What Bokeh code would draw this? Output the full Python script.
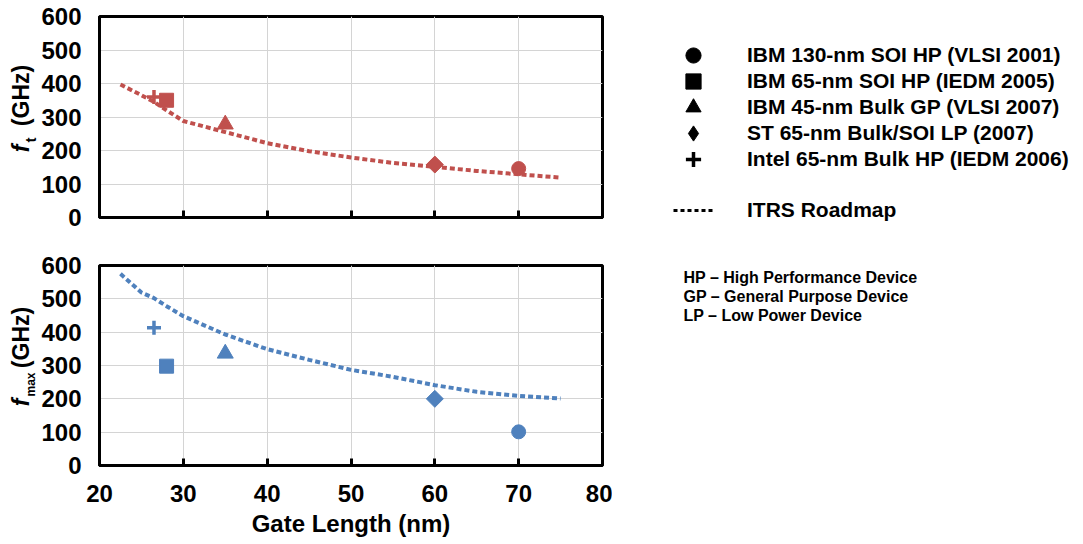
import math
from bokeh.plotting import figure
from bokeh.models import FixedTicker, Label, Legend, LegendItem, Range1d
from bokeh.layouts import column, row
from bokeh.embed import file_html
from bokeh.resources import INLINE

# ---------------- data ----------------
series_names = [
    "IBM 130-nm SOI HP (VLSI 2001)",
    "IBM 65-nm SOI HP (IEDM 2005)",
    "IBM 45-nm Bulk GP (VLSI 2007)",
    "ST 65-nm Bulk/SOI LP (2007)",
    "Intel 65-nm Bulk HP (IEDM 2006)",
]
series_markers = ["circle", "square", "triangle", "diamond", "cross"]
gate_length = [70, 28, 35, 60, 26.5]
ft_values = [146, 350, 278, 158, 360]
fmax_values = [101, 298, 336, 200, 413]

itrs_gate_length = [22.5, 25, 26.5, 28, 30, 35, 40, 45, 50, 55, 60, 65, 70, 75]
itrs_ft = [397, 365, 345, 320, 288, 255, 222, 198, 179, 163, 151, 139, 129, 119]
itrs_fmax = [575, 519, 502, 478, 448, 393, 349, 317, 287, 266, 241, 221, 209, 201]

x_ticks = [20, 30, 40, 50, 60, 70, 80]
y_ticks = [0, 100, 200, 300, 400, 500, 600]
notes = ["HP \u2013 High Performance Device",
         "GP \u2013 General Purpose Device",
         "LP \u2013 Low Power Device"]

RED = "#C0504D"
BLUE = "#4F81BD"
FONT = "Liberation Sans"
marker_sizes = {"circle": 14, "square": 14, "triangle": 16, "diamond": 12, "cross": 14}

LEFT_W = 38
MAIN_W = 574
RIGHT_W = 1080 - LEFT_W - MAIN_W
H1 = 237
H2 = 305
NAN = float("nan")


def make_fig(height, border_top, border_bottom):
    p = figure(width=MAIN_W, height=height, output_backend="svg", toolbar_location=None,
               x_range=Range1d(20, 80), y_range=Range1d(0, 600),
               min_border_left=61, min_border_right=10,
               min_border_top=border_top, min_border_bottom=border_bottom)
    p.outline_line_color = "black"
    p.outline_line_width = 3
    p.outline_line_alpha = 1
    for ax in p.axis:
        ax.axis_line_width = 3
        ax.axis_line_color = "black"
        ax.major_tick_line_width = 3
        ax.major_tick_line_color = "black"
        ax.minor_tick_line_color = None
        ax.major_label_text_font = FONT
        ax.major_label_text_font_style = "bold"
        ax.major_label_text_font_size = "24px"
        ax.major_label_text_color = "black"
    p.xaxis.ticker = FixedTicker(ticks=x_ticks)
    p.yaxis.ticker = FixedTicker(ticks=y_ticks)
    p.xaxis.major_tick_in = 7
    p.xaxis.major_tick_out = 0
    p.yaxis.major_tick_in = 0
    p.yaxis.major_tick_out = 0
    p.yaxis.major_label_standoff = 18
    p.xaxis.major_label_standoff = 19
    p.grid.grid_line_color = "#d4d4d4"
    p.grid.grid_line_width = 1
    return p


def blank_fig(width, height):
    p = figure(width=width, height=height, output_backend="svg", toolbar_location=None,
               x_range=Range1d(0, 1), y_range=Range1d(0, 1),
               x_axis_location=None, y_axis_location=None,
               min_border=0, min_border_left=0, min_border_right=0,
               min_border_top=0, min_border_bottom=0)
    p.outline_line_color = None
    p.grid.visible = False
    return p


def add_series(p, yvals, itrs_vals, color):
    p.line(itrs_gate_length, itrs_vals, line_color=color, line_width=4, line_dash="5 3")
    for m, x, y in zip(series_markers, gate_length, yvals):
        if m == "cross":
            p.scatter([x], [y], marker=m, size=marker_sizes[m], line_color=color, line_width=3.5)
        elif m == "diamond":
            # drawn as a square turned by 45 degrees, like the reference symbol
            p.scatter([x], [y], marker="square", angle=math.pi / 4, size=marker_sizes[m],
                      fill_color=color, line_color=color)
        else:
            p.scatter([x], [y], marker=m, size=marker_sizes[m], fill_color=color, line_color=color)


def ylabel(p, parts):
    # parts: text, centre along the (vertical) text in frame px, x of text middle, size, style
    for text, y, x, size, style in parts:
        p.add_layout(Label(x=x, y=y, x_units="screen", y_units="screen", text=text,
                           angle=math.pi / 2, text_align="center", text_baseline="middle",
                           text_font=FONT, text_font_size=size, text_font_style=style,
                           text_color="black"))


# ---------------- top: f_t ----------------
p1 = make_fig(H1, 16, 20)
p1.xaxis.major_label_overrides = {t: "" for t in x_ticks}
p1.xaxis.major_label_text_font_size = "1px"
p1.xaxis.major_label_standoff = 0
add_series(p1, ft_values, itrs_ft, RED)

# ---------------- bottom: f_max ----------------
p2 = make_fig(H2, 28, 77)
add_series(p2, fmax_values, itrs_fmax, BLUE)
p2.xaxis.axis_label = "Gate Length (nm)"
p2.xaxis.axis_label_text_font = FONT
p2.xaxis.axis_label_text_font_style = "bold"
p2.xaxis.axis_label_text_font_size = "24px"
p2.xaxis.axis_label_text_color = "black"
p2.xaxis.axis_label_standoff = 5

# ---------------- y titles ----------------
l1 = blank_fig(LEFT_W, H1)
ylabel(l1, [("f", H1 - 148, 20.5, "23px", "bold italic"),
            ("t", H1 - 139.5, 29.5, "15px", "bold"),
            ("(GHz)", H1 - 95, 20.5, "23px", "bold")])
l2 = blank_fig(LEFT_W, H2)
ylabel(l2, [("f", H2 - (402 - H1), 20.5, "23px", "bold italic"),
            ("max", H2 - (384 - H1), 30.5, "12px", "bold"),
            ("(GHz)", H2 - (337 - H1), 20.5, "23px", "bold")])

# ---------------- legend panel ----------------
H_ALL = H1 + H2
pl = blank_fig(RIGHT_W, H_ALL)
dummy = []
for m in series_markers:
    if m == "cross":
        r = pl.scatter([NAN], [NAN], marker=m, line_color="black", line_width=3.5)
    else:
        r = pl.scatter([NAN], [NAN], marker=m, fill_color="black", line_color="black")
    dummy.append(r)

legend_style = dict(glyph_width=40, glyph_height=38, label_height=38,
                    label_standoff=34, spacing=14, padding=0, margin=0,
                    border_line_color=None, background_fill_alpha=0,
                    label_text_font=FONT, label_text_font_style="bold",
                    label_text_font_size="21px", label_text_color="black")
items = [LegendItem(label=n, renderers=[r]) for n, r in zip(series_names, dummy)]
# two interleaved columns of rows so that the symbols can keep their size
legA = Legend(items=[items[0], items[2], items[4]], location=(61, H_ALL - 178), **legend_style)
legB = Legend(items=[items[1], items[3]], location=(61, H_ALL - 152), **legend_style)
pl.add_layout(legA)
pl.add_layout(legB)
rl = pl.line([NAN, NAN], [NAN, NAN], line_color="black", line_width=3, line_dash="4 3")
leg2 = Legend(items=[LegendItem(label="ITRS Roadmap", renderers=[rl])],
              location=(61, H_ALL - 229), **legend_style)
pl.add_layout(leg2)
for i, t in enumerate(notes):
    pl.add_layout(Label(x=71, y=H_ALL - 277 - 19 * i, x_units="screen", y_units="screen", text=t,
                        text_baseline="middle", text_font=FONT, text_font_size="16px",
                        text_font_style="bold", text_color="black"))

layout = row(column(l1, l2), column(p1, p2), pl)
open("out.html", "w").write(file_html(layout, INLINE))
